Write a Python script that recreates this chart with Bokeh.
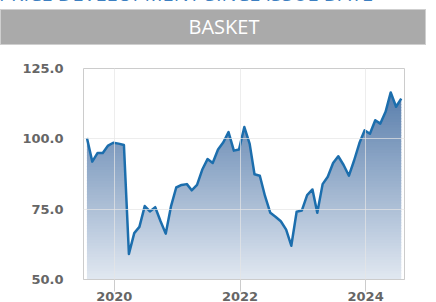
import numpy as np
import pandas as pd
from bokeh.plotting import figure
from bokeh.models import Range1d, FixedTicker, NumeralTickFormatter, DatetimeTickFormatter, Div
from bokeh.layouts import column
from bokeh.embed import file_html
from bokeh.resources import INLINE

# ---- data ----
title_text = "PRICE DEVELOPMENT SINCE ISSUE DATE"
series_name = "BASKET"
dates = pd.date_range("2019-07-01", periods=61, freq="MS") + pd.Timedelta(days=25)
values = [100.3, 91.9, 95.0, 95.0, 97.6, 98.6, 98.3, 97.8, 59.1, 66.5,
          68.7, 76.1, 74.2, 75.7, 70.7, 66.3, 76.1, 82.7, 83.6, 83.9,
          81.7, 83.6, 89.0, 92.8, 91.4, 96.2, 98.8, 102.4, 95.8, 96.2,
          104.2, 98.2, 87.4, 86.9, 79.7, 73.7, 72.3, 70.7, 67.7, 62.0,
          74.1, 74.5, 80.0, 82.0, 73.7, 83.9, 86.5, 91.4, 93.8, 90.7,
          86.9, 92.3, 98.5, 103.0, 101.8, 106.6, 105.4, 109.6, 116.5, 111.4,
          114.3]
y_ticks = [50, 75, 100, 125]
x_tick_years = ["2020-01-01", "2022-01-01", "2024-01-01"]

# ---- header ----
header = Div(text=f"""
<div style="position:relative;width:436px;height:56px;font-family:'Open Sans';">
  <div style="position:absolute;left:-6px;top:-13px;font-size:20px;line-height:20px;color:#3d7fc1;white-space:nowrap;">{title_text}</div>
  <div style="position:absolute;left:-5px;top:12px;width:426px;height:36px;box-sizing:border-box;padding-left:22px;background:#aaaaaa;border:1px solid #cfcfcf;color:#ffffff;font-size:20px;line-height:34px;text-align:center;">{series_name}</div>
</div>""", width=436, height=56)

# ---- figure ----
x0 = pd.Timestamp("2019-07-06")
x1 = pd.Timestamp("2024-08-14")
p = figure(width=436, height=246, x_axis_type="datetime",
           x_range=Range1d(x0, x1), y_range=Range1d(50, 125),
           output_backend="svg", toolbar_location=None,
           min_border_left=83, min_border_right=32, min_border_top=10, min_border_bottom=25)
p.background_fill_color = "white"
p.border_fill_color = "white"
p.outline_line_color = "#cccccc"

# gradient fill built from horizontal bands following the same piecewise-linear path
xs_ms = dates.values.astype("datetime64[ms]").astype(np.int64).astype(float)
vals = np.array(values, dtype=float)
fine_ms = np.linspace(xs_ms[0], xs_ms[-1], 1500)
fine_v = np.interp(fine_ms, xs_ms, vals)
fine_dt = pd.to_datetime(fine_ms, unit="ms")

top_c = np.array([0x58, 0x7d, 0xab], dtype=float)
bot_c = np.array([0xe1, 0xe8, 0xf1], dtype=float)
vtop = 117.0
edges = np.linspace(50, vtop, 68)
for k in range(len(edges) - 1):
    lo, hi = edges[k], edges[k + 1]
    if k == len(edges) - 2:
        hi = 130
    f = ((lo + edges[k + 1]) / 2 - 50) / (vtop - 50)
    c = bot_c + (top_c - bot_c) * f
    col = "#%02x%02x%02x" % tuple(int(round(t)) for t in c)
    y1 = np.minimum(fine_v, lo)
    y2 = np.minimum(fine_v, hi + 0.35)
    p.varea(x=fine_dt, y1=y1, y2=y2, fill_color=col, fill_alpha=1.0)

p.line(dates, values, line_color="#1c6ead", line_width=2.5, line_join="round")

# axes
p.xaxis.ticker = FixedTicker(ticks=[pd.Timestamp(d).value / 1e6 for d in x_tick_years])
p.xaxis.formatter = DatetimeTickFormatter(years="%Y", months="%Y", days="%Y")
p.yaxis.ticker = FixedTicker(ticks=y_ticks)
p.yaxis.formatter = NumeralTickFormatter(format="0.0")

for ax in (p.xaxis[0], p.yaxis[0]):
    ax.major_label_text_font = "DejaVu Sans"
    ax.major_label_text_font_style = "bold"
    ax.major_label_text_font_size = "13px"
    ax.major_label_text_color = "#666666"
    ax.minor_tick_line_color = None

p.xaxis.axis_line_color = "#cccccc"
p.xaxis.major_tick_line_color = "#cccccc"
p.xaxis.major_tick_out = 12
p.xaxis.major_tick_in = 0
p.xaxis.major_label_standoff = 0

p.yaxis.axis_line_color = None
p.yaxis.major_tick_line_color = None
p.yaxis.major_tick_out = 0
p.yaxis.major_tick_in = 0
p.yaxis.major_label_standoff = 20

for g in (p.xgrid[0], p.ygrid[0]):
    g.grid_line_color = "#e6e6e6"
    g.grid_line_alpha = 0.7
    g.level = "overlay"

layout = column(header, p, spacing=0)
layout.styles = {"margin-top": "-8px"}

open("out.html", "w").write(file_html(layout, INLINE))
